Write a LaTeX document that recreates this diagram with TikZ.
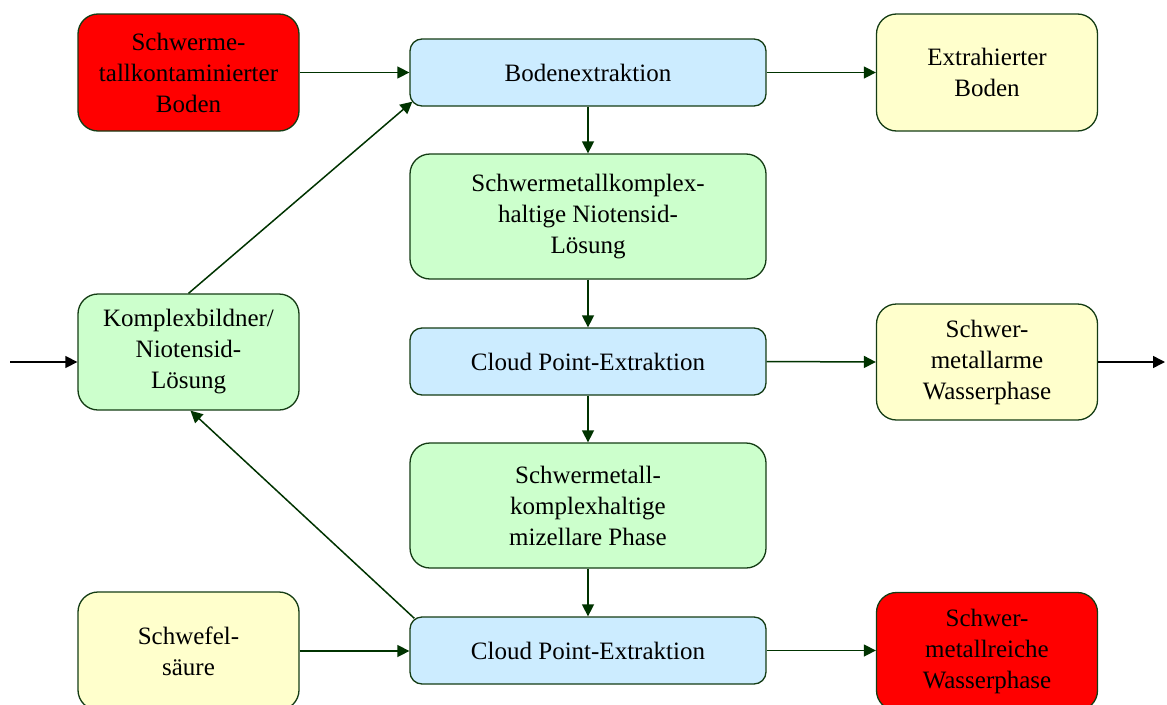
\documentclass[tikz,border=0pt]{standalone}
\usepackage{fontspec}
\setmainfont{Liberation Serif}
\usetikzlibrary{arrows.meta,calc}
\definecolor{bord}{RGB}{20,60,20}
\definecolor{arr}{RGB}{0,51,0}
\definecolor{cred}{RGB}{255,0,0}
\definecolor{cblue}{RGB}{204,236,255}
\definecolor{cgreen}{RGB}{204,255,204}
\definecolor{cyellow}{RGB}{255,255,204}
\tikzset{
  box/.style={draw=bord, line width=1.3pt, rounded corners=20pt, align=center,
    inner sep=0pt, font=\fontsize{25}{31}\selectfont},
  tallbox/.style={box, minimum width=221pt, minimum height=117pt},
  widebox/.style={box, minimum width=356pt, minimum height=125pt},
  flatbox/.style={box, rounded corners=12pt, minimum width=356pt, minimum height=67pt},
  conn/.style={draw=arr, line width=1.5pt, -{Triangle[length=12pt,width=12pt]}},
  extconn/.style={draw=black, line width=1.5pt, -{Triangle[length=12pt,width=12pt]}}
}
\begin{document}
\begin{tikzpicture}[x=1pt,y=-1pt]
\useasboundingbox (0,0) rectangle (1167,704);
\node[tallbox, fill=cred] (red1) at (188.5,72.5) {Schwerme-\\tallkontaminierter\\Boden};
\node[flatbox, fill=cblue] (bodenex) at (588,72.5) {Bodenextraktion};
\node[tallbox, fill=cyellow] (extra) at (987,72.5) {Extrahierter\\Boden};
\node[widebox, fill=cgreen] (kl) at (588,216.5) {Schwermetallkomplex-\\haltige Niotensid-\\Lösung};
\node[tallbox, fill=cgreen, minimum height=116pt] (kb) at (188.5,352) {Komplexbildner/\\Niotensid-\\Lösung};
\node[flatbox, fill=cblue] (cpe1) at (588,361.5) {Cloud Point-Extraktion};
\node[tallbox, fill=cyellow, minimum height=116pt] (arm) at (987,362) {Schwer-\\metallarme\\Wasserphase};
\node[widebox, fill=cgreen] (miz) at (588,505.5) {Schwermetall-\\komplexhaltige\\mizellare Phase};
\node[tallbox, fill=cyellow, minimum height=118pt] (sws) at (188.5,651) {Schwefel-\\säure};
\node[flatbox, fill=cblue] (cpe2) at (588,650.5) {Cloud Point-Extraktion};
\node[tallbox, fill=cred, minimum height=118pt] (reich) at (987,651.5) {Schwer-\\metallreiche\\Wasserphase};
\coordinate (inL) at (10,362);
\coordinate (outR) at (1165,362);
\draw[conn] (red1.east) -- (bodenex.west);
\draw[conn] (bodenex.east) -- (extra.west);
\draw[conn] (bodenex.south) -- (kl.north);
\draw[conn] (kl.south) -- (cpe1.north);
\draw[conn] (cpe1.east) -- (arm.west);
\draw[conn] (cpe1.south) -- (miz.north);
\draw[conn] (miz.south) -- (cpe2.north);
\draw[conn] (sws.east) -- (sws.east -| cpe2.west);
\draw[conn] (cpe2.east) -- (cpe2.east -| reich.west);
\draw[extconn] (inL) -- (inL -| kb.west);
\draw[extconn] (arm.east) -- (outR);
\draw[conn] (kb.north) -- ($(bodenex.south west)+(3,-5)$);
\draw[conn] ($(cpe2.north west)+(5,2)$) -- ($(kb.south)+(2,0)$);
\end{tikzpicture}
\end{document}
